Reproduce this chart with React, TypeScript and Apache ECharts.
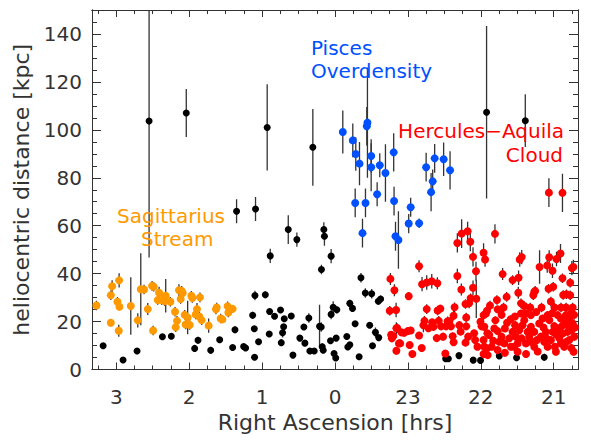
import React, { useEffect, useRef } from "react";
import * as echarts from "echarts";

// [RA in hours (values above 12h stored as RA-24), heliocentric distance kpc, error kpc]
type Star = [number, number, number];

const raTicks = [-3, -2, -1, 0, 1, 2, 3];
const distTicks = [0, 20, 40, 60, 80, 100, 120, 140];

const fieldStars: Star[] = [
  [2.55, 103.7, 57], [2.04, 107, 10], [0.93, 101, 18], [1.35, 66, 5], [1.09, 67, 5],
  [0.304, 92.7, 16], [-2.079, 107.3, 36], [-2.61, 103.8, 11],
  [0.888, 47.4, 3], [0.641, 58.4, 6], [0.523, 54.2, 3], [0.153, 58.4, 3], [0.145, 55.6, 4],
  [0.186, 41.7, 2], [0.053, 47.3, 3], [-0.356, 38.3, 2], [-0.416, 31.9, 2], [-0.503, 31.6, 2],
  [-0.594, 28.5, 1.5], [-0.626, 29.4, 1.5], [1.098, 30.9, 2], [0.956, 31.2, 1.5],
  [3.18, 9.9, 1], [2.907, 4.0, 1], [2.715, 7.7, 1], [2.367, 13.7, 1], [2.245, 13.9, 1],
  [1.925, 8.8, 1], [1.879, 12.2, 1.5], [1.705, 8.0, 1.5], [1.582, 12.4, 1], [1.404, 9.2, 1],
  [1.372, 16.6, 1.5], [1.253, 9.6, 1], [1.226, 9.0, 1], [1.13, 22.6, 1.5], [1.107, 17.0, 1],
  [1.103, 5.1, 1], [1.048, 11.6, 1], [0.902, 14.8, 1], [0.897, 24.2, 1.5], [0.829, 22.2, 1],
  [0.747, 24.8, 1], [0.696, 21.2, 1], [0.705, 17.8, 1], [0.719, 15.3, 2], [0.737, 11.2, 1],
  [0.6, 22.3, 1], [0.577, 6.0, 1], [0.482, 13.1, 1], [0.427, 17.7, 1], [0.413, 11.0, 1],
  [0.359, 21.5, 2], [0.345, 7.7, 1], [0.285, 7.7, 1], [0.212, 18.0, 9], [0.189, 17.7, 2],
  [0.175, 9.5, 1.5], [0.162, 8.0, 1], [0.053, 23.0, 2], [0.025, 26.0, 2.5], [-0.025, 24.9, 1.5],
  [0.062, 12.0, 1], [-0.016, 13.1, 1], [0.013, 6.7, 1], [-0.01, 4.8, 1], [-0.162, 13.8, 1],
  [-0.176, 9.4, 1], [-0.203, 10.3, 1], [-0.203, 27.6, 1.5], [-0.24, 25.5, 1.5], [-0.276, 19.1, 1],
  [-0.331, 5.3, 1], [-0.476, 18.5, 1], [-0.555, 15.5, 2], [-0.6, 13.3, 1], [-0.514, 9.9, 1],
  [-1.518, 4.5, 1], [-1.555, 4.5, 1], [-1.7, 5.8, 1], [-1.896, 3.9, 1], [-1.996, 3.8, 1],
  [-2.253, 5.6, 1], [-2.49, 4.9, 1], [-2.87, 5.1, 1.5],
];

const sagittariusStars: Star[] = [
  [3.272, 26.7, 2], [3.075, 31.0, 2], [3.057, 34.7, 2.5], [3.075, 19.5, 1.5], [2.984, 28.3, 2],
  [2.957, 26.2, 1.5], [2.961, 37.2, 3], [2.966, 16.2, 2.5], [2.801, 26.5, 12], [2.705, 20.5, 3],
  [2.664, 33.5, 15], [2.619, 33.4, 2], [2.568, 25.2, 2.5], [2.509, 34.9, 2], [2.486, 34.5, 2],
  [2.495, 16.3, 2], [2.413, 32.0, 2.5], [2.431, 29.0, 2], [2.377, 29.0, 2], [2.336, 28.5, 2],
  [2.322, 30.8, 7], [2.258, 28.3, 2], [2.194, 24.1, 2], [2.167, 20.3, 2], [2.185, 17.6, 2],
  [2.14, 33.1, 2.5], [2.103, 32.8, 2], [2.089, 31.9, 2], [2.117, 29.4, 2], [2.062, 22.8, 2],
  [2.021, 21.7, 7], [2.048, 18.8, 2], [1.993, 18.6, 2], [1.97, 30.8, 2], [1.957, 29.8, 2],
  [1.893, 25.2, 2.5], [1.911, 23.0, 2], [1.852, 30.1, 2], [1.861, 22.1, 2], [1.829, 20.6, 2],
  [1.733, 18.3, 3], [1.633, 25.1, 2], [1.623, 25.9, 2], [1.568, 21.3, 2], [1.545, 20.9, 1.5],
  [1.473, 26.4, 2], [1.463, 23.8, 2], [1.404, 25.3, 1.5],
];

const piscesStars: Star[] = [
  [-0.107, 99.1, 9], [-0.244, 95.6, 7], [-0.285, 89.9, 7], [-0.336, 85.9, 9], [-0.436, 101.5, 8],
  [-0.445, 103, 23], [-0.496, 89.1, 7], [-0.496, 84.4, 10], [-0.614, 85.2, 5], [-0.692, 82, 12],
  [-0.805, 90.6, 8], [-0.578, 73.1, 5], [-0.277, 69.5, 6], [-0.418, 69.5, 6], [-0.81, 70.3, 6],
  [-1.038, 67.7, 4], [-1.25, 84.4, 6], [-1.367, 88.1, 6], [-1.49, 87.7, 7], [-1.578, 83.1, 8],
  [-1.34, 78.5, 5], [-1.318, 74, 8], [-1.011, 60.9, 4], [-1.154, 61, 2], [-0.83, 55.6, 6],
  [-0.87, 54, 12], [-0.377, 56.9, 6],
];

const herculesAquilaStars: Star[] = [
  [-0.76, 37.8, 2.5], [-0.815, 33.1, 2.5], [-0.751, 24.5, 2], [-0.838, 24.8, 3], [-0.842, 17.2, 2.5],
  [-0.77, 14.5, 1.5], [-0.78, 13.0, 1.5], [-0.8, 14.0, 1.5], [-0.877, 10.9, 1.5], [-0.842, 7.8, 1.5],
  [-0.91, 15.5, 1.5], [-1.153, 43.1, 2.5], [-1.194, 35.6, 3], [-1.258, 36.3, 3], [-1.327, 36.8, 3],
  [-1.404, 36.0, 2.5], [-1.011, 30.6, 1.5], [-1.678, 52.8, 4], [-1.737, 56.7, 6], [-1.819, 57.7, 4],
  [-1.856, 53.3, 4], [-1.893, 47.0, 4], [-1.934, 41.0, 4], [-2.038, 48.7, 4], [-2.058, 45.9, 3],
  [-1.678, 39.0, 3], [-1.733, 33.4, 2.5], [-1.893, 34.1, 3], [-1.258, 25.2, 2], [-1.408, 24.6, 2],
  [-1.445, 25.4, 1.5], [-1.64, 26.0, 2], [-1.626, 22.4, 2], [-1.545, 20.1, 2], [-1.79, 27.3, 2],
  [-1.84, 27.6, 2], [-1.86, 29.7, 2], [-1.938, 29.5, 8], [-1.8, 21.7, 2], [-2.038, 22.7, 2],
  [-2.085, 24.5, 2], [-0.852, 17.3, 2], [-0.893, 10.9, 1.5], [-0.948, 15.3, 1.5], [-0.997, 16.0, 1.5],
  [-1.038, 16.3, 1.5], [-1.024, 10.2, 1.5], [-1.061, 6.5, 1], [-1.153, 14.2, 1.5], [-1.19, 9.0, 1],
  [-1.213, 18.5, 3], [-1.227, 20.3, 2], [-1.282, 17.2, 1.5], [-1.332, 19.7, 1.5], [-1.35, 17.8, 1.5],
  [-1.395, 13.1, 1.5], [-1.423, 20.3, 2], [-1.455, 18.0, 1.5], [-1.482, 13.7, 1.5], [-1.523, 18.0, 1.5],
  [-1.568, 20.1, 1.5], [-1.591, 18.0, 1.5], [-1.614, 13.9, 1.5], [-1.627, 11.4, 1.5], [-1.513, 6.7, 1],
  [-1.705, 18.5, 1.5], [-1.723, 15.8, 1.5], [-1.8, 18.0, 1.5], [-1.79, 11.2, 1.5], [-1.826, 13.7, 1.5],
  [-1.908, 15.1, 1.5], [-1.922, 12.3, 1.5], [-1.954, 9.5, 1.5], [-1.995, 19.9, 1.5], [-2.01, 18.0, 1.5],
  [-2.038, 12.3, 1.5], [-2.047, 9.5, 1.5], [-2.038, 6.5, 1], [-2.09, 15.1, 1.5], [-2.08, 8.8, 1.5],
  [-2.194, 56.6, 4], [-2.299, 39.8, 2.5], [-2.436, 37.3, 2], [-2.518, 38.3, 3], [-2.534, 45.9, 3],
  [-2.561, 46.9, 3], [-2.514, 32.0, 2.5], [-2.354, 30.3, 2], [-2.221, 29.0, 2], [-2.126, 26.7, 2],
  [-2.07, 23.4, 2], [-2.23, 25.1, 1.5], [-2.312, 25.9, 2], [-2.285, 22.8, 1.5], [-2.468, 22.1, 1.5],
  [-2.551, 27.6, 2], [-2.596, 26.5, 2], [-2.733, 32.3, 2], [-2.745, 32.8, 2], [-2.72, 31.0, 2],
  [-2.806, 42.8, 7], [-2.911, 43.4, 3], [-2.938, 46.8, 3], [-3.038, 46.1, 3], [-3.093, 48.4, 4],
  [-2.983, 41.2, 3], [-3.12, 38.1, 2], [-2.929, 33.7, 2], [-2.993, 34.5, 2], [-3.175, 31.4, 2],
  [-3.13, 31.1, 2], [-3.226, 36.2, 2], [-3.249, 42.3, 3], [-3.27, 42.8, 3], [-3.226, 31.0, 2],
  [-2.961, 28.4, 2], [-2.678, 25.9, 2], [-2.833, 25.9, 2], [-3.01, 25.9, 2], [-3.1, 25.9, 2],
  [-3.17, 25.9, 2], [-3.26, 25.9, 2], [-3.28, 22.8, 2], [-2.934, 73.8, 6], [-3.12, 73.7, 8],
  [-2.048, 17.8, 1.5], [-2.116, 14.4, 1.5], [-2.185, 17.1, 1.5], [-2.231, 16.0, 1.5], [-2.285, 13.7, 1.5],
  [-2.148, 9.5, 1.5], [-2.253, 11.6, 1.5], [-2.39, 13.0, 1.5], [-2.414, 9.5, 1.5], [-2.482, 13.7, 1.5],
  [-2.505, 10.9, 1.5], [-2.527, 16.4, 1.5], [-2.573, 18.5, 1.5], [-2.619, 10.9, 1.5], [-2.596, 20.6, 1.5],
  [-2.687, 17.8, 1.5], [-2.664, 13.7, 1.5], [-2.733, 15.7, 1.5], [-2.77, 12.3, 1.5], [-2.801, 19.2, 1.5],
  [-2.824, 13.7, 1.5], [-2.893, 15.7, 1.5], [-2.916, 9.5, 1.5], [-2.962, 12.3, 1.5], [-3.007, 18.1, 1.5],
  [-3.016, 9.5, 1.5], [-3.053, 17.1, 1.5], [-3.076, 13.0, 1.5], [-3.121, 15.0, 1.5], [-3.144, 19.9, 1.5],
  [-3.19, 18.5, 1.5], [-3.213, 12.3, 1.5], [-3.245, 16.4, 1.5], [-3.281, 13.7, 1.5], [-3.272, 7.4, 1.5],
  [-3.144, 9.5, 1.5], [-3.03, 7.4, 1.5], [-2.847, 21.3, 1.5], [-2.916, 22.7, 1.5], [-3.053, 22.7, 1.5],
  [-3.167, 22.7, 1.5], [-3.236, 23.4, 1.5], [-2.687, 22.7, 1.5], [-2.619, 23.4, 1.5], [-2.551, 23.4, 1.5],
  [-2.459, 9.5, 1.5], [-2.322, 10.9, 1.5], [-2.231, 8.1, 1.5], [-2.094, 6.0, 1.5], [-2.505, 7.4, 1.5],
  [-2.733, 9.5, 1.5], [-2.87, 11.6, 1.5], [-3.098, 10.9, 1.5], [-2.985, 15.7, 1.5], [-3.26, 19.2, 1.5],
  [-2.642, 15.7, 1.5], [-2.436, 15.7, 1.5], [-2.33, 17.1, 1.5], [-3.19, 15.7, 1.5], [-2.94, 20.6, 1.5],
  [-3.098, 21.3, 1.5],
  [-2.36, 19.5, 1.5], [-2.41, 21.0, 1.5], [-2.2, 20.5, 1.5], [-2.17, 12.0, 1.5], [-2.33, 7.0, 1.5],
  [-2.56, 13.0, 1.5], [-2.62, 6.5, 1.5], [-2.7, 11.5, 1.5], [-2.78, 7.5, 1.5], [-2.86, 17.5, 1.5],
  [-2.9, 13.0, 1.5], [-2.98, 23.5, 1.5], [-3.04, 14.5, 1.5], [-3.11, 18.0, 1.5], [-3.17, 11.5, 1.5],
  [-3.22, 20.5, 1.5], [-3.29, 17.5, 1.5], [-3.24, 9.0, 1.5], [-2.76, 24.0, 1.5], [-2.47, 18.5, 1.5],
];

const AXIS_COLOR = "#333";
const TEXT_COLOR = "#333";
const FONT = "DejaVu Sans";
const BLACK = "#000000";
const ORANGE = "#ff9900";
const BLUE = "#0050ff";
const RED = "#ff0000";

export default function App() {
  const ref = useRef<HTMLDivElement>(null);

  useEffect(() => {
    if (!ref.current) return;
    const chart = echarts.init(ref.current, null, { renderer: "svg" });

    const raMinor: number[] = [];
    for (let q = -13; q <= 13; q++) if (q % 4 !== 0) raMinor.push(q / 4);
    const distMinor: number[] = [];
    for (let v = 5; v < 150; v += 5) if (v % 20 !== 0) distMinor.push(v);

    const raFmt = (v: number) => String(Math.round(v < 0 ? v + 24 : v));
    const lineStyle = { color: AXIS_COLOR, width: 1 };

    const xAxisBase = {
      type: "value" as const,
      min: -3.333,
      max: 3.333,
      inverse: true,
      splitLine: { show: false },
      gridIndex: 0,
    };
    const yAxisBase = {
      type: "value" as const,
      min: 0,
      max: 150,
      splitLine: { show: false },
      gridIndex: 0,
    };

    const mkX = (position: "top" | "bottom", ticks: number[], len: number, main: boolean) => ({
      ...xAxisBase,
      position,
      axisLine: { show: true, onZero: false, lineStyle },
      axisTick: { show: true, inside: true, length: len, customValues: ticks, lineStyle },
      axisLabel: main
        ? {
            show: true,
            customValues: raTicks,
            formatter: raFmt,
            margin: 17,
            fontSize: 20,
            fontFamily: FONT,
            color: TEXT_COLOR,
          }
        : { show: false },
      ...(main
        ? {
            name: "Right Ascension [hrs]",
            nameLocation: "middle" as const,
            nameGap: 40,
            nameTextStyle: { fontSize: 22, fontFamily: FONT, color: TEXT_COLOR },
          }
        : {}),
    });

    const mkY = (position: "left" | "right", ticks: number[], len: number, main: boolean) => ({
      ...yAxisBase,
      position,
      axisLine: { show: true, onZero: false, lineStyle },
      axisTick: { show: true, inside: true, length: len, customValues: ticks, lineStyle },
      axisLabel: main
        ? {
            show: true,
            customValues: distTicks,
            margin: 10,
            fontSize: 20,
            fontFamily: FONT,
            color: TEXT_COLOR,
          }
        : { show: false },
      ...(main
        ? {
            name: "heliocentric distance [kpc]",
            nameLocation: "middle" as const,
            nameGap: 58,
            nameTextStyle: { fontSize: 22, fontFamily: FONT, color: TEXT_COLOR },
          }
        : {}),
    });

    const allStars: Star[] = [
      ...fieldStars,
      ...sagittariusStars,
      ...piscesStars,
      ...herculesAquilaStars,
    ];

    const scatter = (data: Star[], color: string, size: number, z: number) => ({
      type: "scatter" as const,
      xAxisIndex: 0,
      yAxisIndex: 0,
      data: data.map((s) => [s[0], s[1]]),
      symbol: "circle",
      symbolSize: size,
      itemStyle: { color, opacity: 1 },
      silent: true,
      z,
    });

    chart.setOption({
      animation: false,
      backgroundColor: "#ffffff",
      grid: { left: 92, right: 13, top: 10, bottom: 73.5, containLabel: false },
      xAxis: [
        mkX("bottom", raTicks, 7, true),
        mkX("bottom", raMinor, 4, false),
        mkX("top", raTicks, 7, false),
        mkX("top", raMinor, 4, false),
      ],
      yAxis: [
        mkY("left", distTicks, 9, true),
        mkY("left", distMinor, 5, false),
        mkY("right", distTicks, 9, false),
        mkY("right", distMinor, 5, false),
      ],
      series: [
        {
          type: "custom",
          xAxisIndex: 0,
          yAxisIndex: 0,
          clip: true,
          silent: true,
          data: allStars,
          encode: { x: 0, y: 1 },
          renderItem: (_params: any, api: any) => {
            const x = api.value(0);
            const y = api.value(1);
            const e = api.value(2);
            const a = api.coord([x, y - e]);
            const b = api.coord([x, y + e]);
            return {
              type: "line",
              shape: { x1: a[0], y1: a[1], x2: b[0], y2: b[1] },
              style: { stroke: "#333", lineWidth: 1.3 },
            };
          },
          z: 1,
        },
        scatter(fieldStars, BLACK, 7, 2),
        scatter(sagittariusStars, ORANGE, 8, 3),
        scatter(piscesStars, BLUE, 8, 3),
        scatter(herculesAquilaStars, RED, 8, 3),
      ],
      graphic: [
        {
          type: "text",
          left: 117,
          top: 206,
          style: { text: "Sagittarius", fontSize: 20, fontFamily: FONT, fill: ORANGE },
          z: 10,
        },
        {
          type: "text",
          left: 141,
          top: 229,
          style: { text: "Stream", fontSize: 20, fontFamily: FONT, fill: ORANGE },
          z: 10,
        },
        {
          type: "text",
          left: 311,
          top: 38,
          style: { text: "Pisces", fontSize: 20, fontFamily: FONT, fill: BLUE },
          z: 10,
        },
        {
          type: "text",
          left: 311,
          top: 61,
          style: { text: "Overdensity", fontSize: 20, fontFamily: FONT, fill: BLUE },
          z: 10,
        },
        {
          type: "text",
          right: 27,
          top: 121,
          style: { text: "Hercules\u2212Aquila", fontSize: 20, fontFamily: FONT, fill: RED },
          z: 10,
        },
        {
          type: "text",
          right: 28,
          top: 145,
          style: { text: "Cloud", fontSize: 20, fontFamily: FONT, fill: RED },
          z: 10,
        },
      ],
    });

    return () => chart.dispose();
  }, []);

  return (
    <div
      ref={ref}
      style={{ position: "fixed", left: 0, top: 0, width: 591, height: 443, background: "#fff" }}
    />
  );
}
